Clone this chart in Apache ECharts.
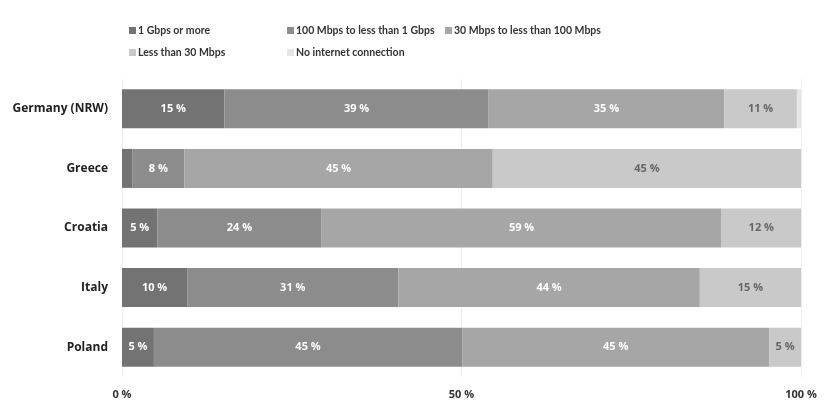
<!DOCTYPE html>
<html><head><meta charset="utf-8">
<script src="https://cdn.jsdelivr.net/npm/echarts@6/dist/echarts.min.js"></script>
<style>html,body{margin:0;padding:0;background:#fff}#c{width:830px;height:408px}</style>
</head><body><div id="c"></div>
<script>
var categories = ['Germany (NRW)', 'Greece', 'Croatia', 'Italy', 'Poland'];
var seriesNames = ['1 Gbps or more', '100 Mbps to less than 1 Gbps', '30 Mbps to less than 100 Mbps', 'Less than 30 Mbps', 'No internet connection'];
var gbps1 = [15.1, 1.5, 5.2, 9.6, 4.7];
var mbps100 = [38.9, 7.7, 24.2, 31.1, 45.4];
var mbps30 = [34.7, 45.4, 58.9, 44.4, 45.2];
var lt30 = [10.7, 45.4, 11.7, 14.9, 4.7];
var noNet = [0.6, 0, 0, 0, 0];
var xTicks = [0, 50, 100];

var values = [gbps1, mbps100, mbps30, lt30, noNet];
var colors = ['#737373', '#8c8c8c', '#a6a6a6', '#c9c9c9', '#e6e6e6'];
var labelColors = ['#ffffff', '#ffffff', '#ffffff', '#666666', '#666666'];
var font = '"Open Sans", "DejaVu Sans", sans-serif';
var legendFont = 'Lato, "Open Sans", sans-serif';

var chart = echarts.init(document.getElementById('c'), null, {renderer: 'canvas'});
var series = seriesNames.map(function (name, i) {
  return {
    name: name,
    type: 'bar',
    stack: 'total',
    barWidth: 39,
    data: values[i].slice().reverse(),
    itemStyle: {color: colors[i]},
    label: {
      show: true,
      position: 'inside',
      color: labelColors[i],
      fontFamily: font,
      fontWeight: 'bold',
      fontSize: 11,
      formatter: function (p) { return p.value >= 3 ? Math.round(p.value) + ' %' : ''; }
    },
    emphasis: {disabled: true}
  };
});
function legend(names, left) {
  return {
    data: names, orient: 'vertical', left: left, top: 20, itemGap: 11,
    itemWidth: 7, itemHeight: 7, icon: 'rect', selectedMode: false,
    textStyle: {fontFamily: legendFont, fontWeight: 'bold', fontSize: 10.5, color: '#333', padding: [0, 0, 0, -3]}
  };
}
chart.setOption({
  animation: false,
  legend: [
    legend([seriesNames[0], seriesNames[3]], 124),
    legend([seriesNames[1], seriesNames[4]], 282),
    legend([seriesNames[2]], 440)
  ],
  grid: {left: 122, right: 29, top: 79, bottom: 31, containLabel: false},
  xAxis: {
    type: 'value', min: 0, max: 100, interval: 50,
    axisLine: {show: false}, axisTick: {show: false},
    splitLine: {show: true, lineStyle: {color: '#eeeeee', width: 1}},
    axisLabel: {
      margin: 12, color: '#333', fontFamily: font, fontWeight: 'bold', fontSize: 11,
      formatter: function (v) { return xTicks.indexOf(v) >= 0 ? v + ' %' : ''; }
    }
  },
  yAxis: {
    type: 'category', data: categories.slice().reverse(),
    axisLine: {show: false}, axisTick: {show: false},
    axisLabel: {margin: 14, color: '#222', fontFamily: font, fontWeight: 'bold', fontSize: 12}
  },
  series: series
});
</script></body></html>
